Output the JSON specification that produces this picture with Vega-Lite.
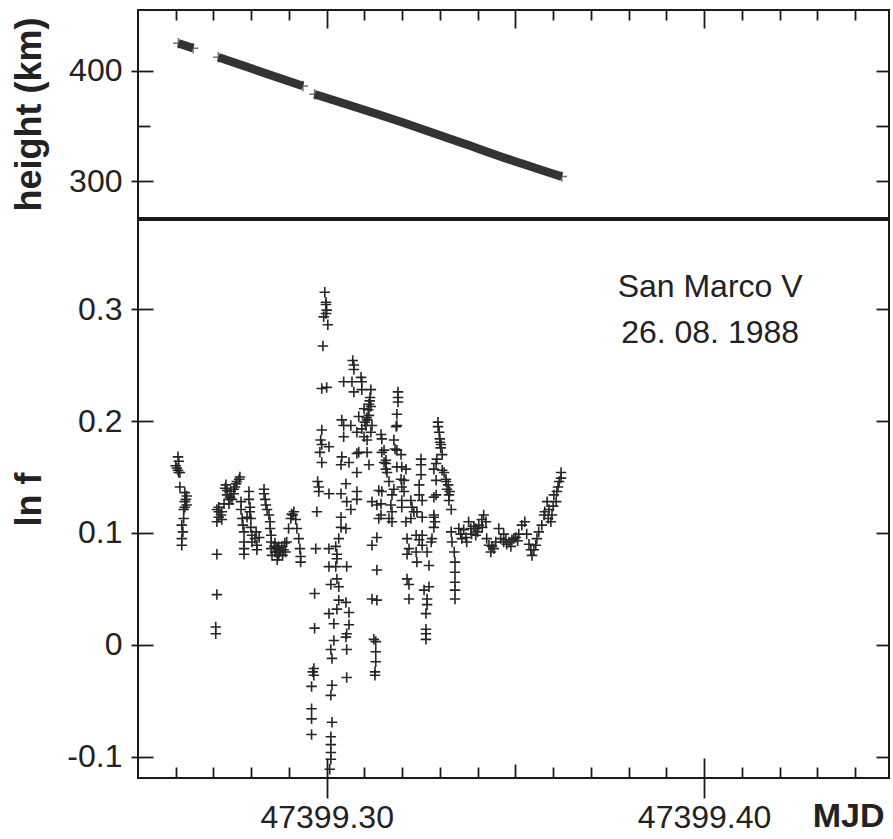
{
"$schema":"https://vega.github.io/schema/vega-lite/v6.json",
"padding":{"left":10,"top":8,"right":2,"bottom":2},
"spacing":0,
"config":{"view":{"stroke":"#1a1a1a","strokeWidth":2},"axis":{"domain":false,"grid":false,"tickColor":"#1a1a1a","tickWidth":1.8,"labelFont":"Liberation Sans","labelFontSize":32,"labelColor":"#222","titleFont":"Liberation Sans","titleFontWeight":"bold","titleFontSize":36,"titleColor":"#222"}},
"vconcat":[
{"width":751,"height":208,
 "data":{"values":[
 {"seg":1,"pt":"end","mjd":47399.2607,"height":424.8},{"seg":1,"pt":"end","mjd":47399.2646,"height":420.3},
 {"seg":2,"pt":"end","mjd":47399.2713,"height":412.1},{"seg":2,"pt":"end","mjd":47399.2937,"height":386.1},
 {"seg":3,"pt":"end","mjd":47399.2968,"height":378.6},{"seg":3,"pt":"mid","mjd":47399.3200,"height":353.2},{"seg":3,"pt":"mid","mjd":47399.3359,"height":334.5},{"seg":3,"pt":"mid","mjd":47399.3492,"height":318.6},{"seg":3,"pt":"end","mjd":47399.3623,"height":304.0}
 ]},
 "resolve":{"axis":{"x":"independent","y":"independent"}},
 "layer":[
  {"mark":{"type":"line","strokeWidth":8.5,"color":"#333333","strokeCap":"butt","interpolate":"monotone"},
   "encoding":{
    "x":{"field":"mjd","type":"quantitative","scale":{"domain":[47399.25,47399.449],"nice":false,"zero":false},
      "axis":{"orient":"top","values":[47399.26,47399.27,47399.28,47399.29,47399.30,47399.31,47399.32,47399.33,47399.34,47399.35,47399.36,47399.37,47399.38,47399.39,47399.40,47399.41,47399.42,47399.43,47399.44],"labels":false,"title":null,
      "tickSize":{"condition":{"test":"round(datum.value*100)%5===0","value":-18},"value":-10}}},
    "y":{"field":"height","type":"quantitative","scale":{"domain":[266.5,455],"nice":false,"zero":false},
      "axis":{"orient":"left","values":[300,350,400],"labels":false,"title":null,"tickSize":{"condition":{"test":"datum.value===350","value":-12},"value":-15}}},
    "detail":{"field":"seg","type":"nominal"}}},
  {"transform":[{"filter":"datum.pt === 'end'"}],
   "mark":{"type":"point","shape":"M-1,0H1M0,-1V1","size":110,"filled":false,"strokeWidth":1.5,"color":"#333333"},
   "encoding":{
    "x":{"field":"mjd","type":"quantitative","scale":{"domain":[47399.25,47399.449],"nice":false,"zero":false},"axis":null},
    "y":{"field":"height","type":"quantitative","scale":{"domain":[266.5,455],"nice":false,"zero":false},
      "axis":{"orient":"left","values":[300,400],"tickSize":7,"labelPadding":9,"title":"height (km)","titleX":-109,"titleBaseline":"middle"}}}},
  {"data":{"values":[]},"mark":{"type":"point"},
   "encoding":{
    "x":{"field":"mjd","type":"quantitative","scale":{"domain":[47399.25,47399.449],"nice":false,"zero":false},"axis":null},
    "y":{"field":"height","type":"quantitative","scale":{"domain":[266.5,455],"nice":false,"zero":false},
      "axis":{"orient":"right","values":[300,350,400],"labels":false,"title":null,"tickSize":-13}}}}
 ]},
{"width":751,"height":558,
 "resolve":{"axis":{"x":"independent","y":"independent"}},
 "layer":[
  {"data":{"values":[
{"mjd":47399.2606,"lnf":0.168},{"mjd":47399.2608,"lnf":0.164},{"mjd":47399.2603,"lnf":0.158},{"mjd":47399.2606,"lnf":0.156},{"mjd":47399.2611,"lnf":0.154},{"mjd":47399.2600,"lnf":0.160},{"mjd":47399.2608,"lnf":0.154},{"mjd":47399.2611,"lnf":0.141},{"mjd":47399.2624,"lnf":0.136},{"mjd":47399.2629,"lnf":0.133},{"mjd":47399.2627,"lnf":0.130},{"mjd":47399.2624,"lnf":0.128},{"mjd":47399.2629,"lnf":0.125},{"mjd":47399.2624,"lnf":0.123},{"mjd":47399.2621,"lnf":0.121},{"mjd":47399.2621,"lnf":0.113},{"mjd":47399.2616,"lnf":0.107},{"mjd":47399.2619,"lnf":0.101},{"mjd":47399.2616,"lnf":0.095},{"mjd":47399.2616,"lnf":0.089},
{"mjd":47399.2709,"lnf":0.121},{"mjd":47399.2714,"lnf":0.119},{"mjd":47399.2714,"lnf":0.114},{"mjd":47399.2709,"lnf":0.110},{"mjd":47399.2722,"lnf":0.112},{"mjd":47399.2709,"lnf":0.081},{"mjd":47399.2709,"lnf":0.045},{"mjd":47399.2706,"lnf":0.016},{"mjd":47399.2706,"lnf":0.010},{"mjd":47399.2733,"lnf":0.143},{"mjd":47399.2736,"lnf":0.138},{"mjd":47399.2746,"lnf":0.137},{"mjd":47399.2754,"lnf":0.139},{"mjd":47399.2760,"lnf":0.144},{"mjd":47399.2768,"lnf":0.148},{"mjd":47399.2770,"lnf":0.150},{"mjd":47399.2741,"lnf":0.130},{"mjd":47399.2741,"lnf":0.126},{"mjd":47399.2749,"lnf":0.130},{"mjd":47399.2728,"lnf":0.126},{"mjd":47399.2722,"lnf":0.119},{"mjd":47399.2720,"lnf":0.116},{"mjd":47399.2736,"lnf":0.134},{"mjd":47399.2754,"lnf":0.135},{"mjd":47399.2762,"lnf":0.146},{"mjd":47399.2714,"lnf":0.123},{"mjd":47399.2731,"lnf":0.140},{"mjd":47399.2757,"lnf":0.141},{"mjd":47399.2744,"lnf":0.132},
{"mjd":47399.2773,"lnf":0.128},{"mjd":47399.2773,"lnf":0.121},{"mjd":47399.2776,"lnf":0.113},{"mjd":47399.2778,"lnf":0.107},{"mjd":47399.2781,"lnf":0.101},{"mjd":47399.2781,"lnf":0.092},{"mjd":47399.2781,"lnf":0.086},{"mjd":47399.2781,"lnf":0.081},{"mjd":47399.2789,"lnf":0.114},{"mjd":47399.2794,"lnf":0.137},{"mjd":47399.2794,"lnf":0.130},{"mjd":47399.2797,"lnf":0.123},{"mjd":47399.2799,"lnf":0.113},{"mjd":47399.2799,"lnf":0.105},{"mjd":47399.2802,"lnf":0.098},{"mjd":47399.2802,"lnf":0.092},{"mjd":47399.2810,"lnf":0.095},{"mjd":47399.2813,"lnf":0.101},{"mjd":47399.2815,"lnf":0.089},{"mjd":47399.2815,"lnf":0.085},{"mjd":47399.2821,"lnf":0.096},{"mjd":47399.2834,"lnf":0.139},{"mjd":47399.2834,"lnf":0.135},{"mjd":47399.2837,"lnf":0.130},{"mjd":47399.2839,"lnf":0.125},{"mjd":47399.2842,"lnf":0.121},{"mjd":47399.2847,"lnf":0.116},{"mjd":47399.2850,"lnf":0.110},{"mjd":47399.2850,"lnf":0.104},{"mjd":47399.2853,"lnf":0.098},{"mjd":47399.2853,"lnf":0.092},{"mjd":47399.2853,"lnf":0.086},{"mjd":47399.2855,"lnf":0.080},{"mjd":47399.2861,"lnf":0.088},{"mjd":47399.2863,"lnf":0.091},{"mjd":47399.2866,"lnf":0.083},{"mjd":47399.2869,"lnf":0.076},{"mjd":47399.2871,"lnf":0.086},{"mjd":47399.2873,"lnf":0.080},{"mjd":47399.2875,"lnf":0.083},{"mjd":47399.2881,"lnf":0.088},{"mjd":47399.2883,"lnf":0.080},{"mjd":47399.2886,"lnf":0.085},{"mjd":47399.2889,"lnf":0.091},{"mjd":47399.2891,"lnf":0.083},{"mjd":47399.2894,"lnf":0.092},{"mjd":47399.2899,"lnf":0.104},{"mjd":47399.2905,"lnf":0.113},{"mjd":47399.2907,"lnf":0.117},{"mjd":47399.2913,"lnf":0.119},{"mjd":47399.2918,"lnf":0.112},{"mjd":47399.2921,"lnf":0.104},{"mjd":47399.2926,"lnf":0.095},{"mjd":47399.2929,"lnf":0.086},{"mjd":47399.2931,"lnf":0.079},{"mjd":47399.2931,"lnf":0.074},{"mjd":47399.2873,"lnf":0.088},{"mjd":47399.2863,"lnf":0.083},{"mjd":47399.2868,"lnf":0.087},{"mjd":47399.2878,"lnf":0.084},{"mjd":47399.2910,"lnf":0.116},{"mjd":47399.2796,"lnf":0.119},
{"mjd":47399.2995,"lnf":0.315},{"mjd":47399.2998,"lnf":0.306},{"mjd":47399.2998,"lnf":0.304},{"mjd":47399.3000,"lnf":0.299},{"mjd":47399.2998,"lnf":0.296},{"mjd":47399.2992,"lnf":0.293},{"mjd":47399.3003,"lnf":0.286},{"mjd":47399.2990,"lnf":0.267},{"mjd":47399.2987,"lnf":0.229},{"mjd":47399.3000,"lnf":0.230},{"mjd":47399.3045,"lnf":0.235},{"mjd":47399.3069,"lnf":0.254},{"mjd":47399.3072,"lnf":0.250},{"mjd":47399.3072,"lnf":0.246},{"mjd":47399.3067,"lnf":0.235},{"mjd":47399.3072,"lnf":0.226},{"mjd":47399.3091,"lnf":0.239},{"mjd":47399.3093,"lnf":0.235},{"mjd":47399.3093,"lnf":0.228},{"mjd":47399.3117,"lnf":0.228},{"mjd":47399.3112,"lnf":0.215},{"mjd":47399.3117,"lnf":0.213},{"mjd":47399.3099,"lnf":0.211},{"mjd":47399.3112,"lnf":0.205},{"mjd":47399.3085,"lnf":0.204},{"mjd":47399.3107,"lnf":0.201},{"mjd":47399.3104,"lnf":0.196},{"mjd":47399.3093,"lnf":0.193},{"mjd":47399.3120,"lnf":0.196},{"mjd":47399.3040,"lnf":0.201},{"mjd":47399.3045,"lnf":0.196},{"mjd":47399.3064,"lnf":0.196},{"mjd":47399.3080,"lnf":0.190},{"mjd":47399.3045,"lnf":0.186},{"mjd":47399.3099,"lnf":0.186},{"mjd":47399.3107,"lnf":0.183},{"mjd":47399.2987,"lnf":0.192},{"mjd":47399.2984,"lnf":0.183},{"mjd":47399.2987,"lnf":0.179},{"mjd":47399.3006,"lnf":0.177},{"mjd":47399.2982,"lnf":0.172},{"mjd":47399.2987,"lnf":0.163},{"mjd":47399.3040,"lnf":0.168},{"mjd":47399.3059,"lnf":0.163},{"mjd":47399.3038,"lnf":0.161},{"mjd":47399.3080,"lnf":0.171},{"mjd":47399.3085,"lnf":0.172},{"mjd":47399.3080,"lnf":0.154},{"mjd":47399.3107,"lnf":0.172},{"mjd":47399.3112,"lnf":0.161},{"mjd":47399.3144,"lnf":0.188},{"mjd":47399.3146,"lnf":0.172},{"mjd":47399.3152,"lnf":0.163},{"mjd":47399.2976,"lnf":0.146},{"mjd":47399.2979,"lnf":0.141},{"mjd":47399.2979,"lnf":0.137},{"mjd":47399.3006,"lnf":0.135},{"mjd":47399.3038,"lnf":0.135},{"mjd":47399.3051,"lnf":0.144},{"mjd":47399.3080,"lnf":0.137},{"mjd":47399.3080,"lnf":0.130},{"mjd":47399.3138,"lnf":0.138},{"mjd":47399.3120,"lnf":0.128},{"mjd":47399.3133,"lnf":0.125},{"mjd":47399.3138,"lnf":0.113},{"mjd":47399.2974,"lnf":0.119},{"mjd":47399.3038,"lnf":0.114},{"mjd":47399.3053,"lnf":0.128},{"mjd":47399.3064,"lnf":0.121},{"mjd":47399.3038,"lnf":0.105},{"mjd":47399.3051,"lnf":0.104},{"mjd":47399.3133,"lnf":0.096},{"mjd":47399.3120,"lnf":0.089},{"mjd":47399.3032,"lnf":0.095},{"mjd":47399.2971,"lnf":0.086},{"mjd":47399.3006,"lnf":0.086},{"mjd":47399.3024,"lnf":0.088},{"mjd":47399.3027,"lnf":0.081},{"mjd":47399.3027,"lnf":0.077},{"mjd":47399.3006,"lnf":0.070},{"mjd":47399.3024,"lnf":0.070},{"mjd":47399.3053,"lnf":0.070},{"mjd":47399.3133,"lnf":0.067},{"mjd":47399.3011,"lnf":0.054},{"mjd":47399.3027,"lnf":0.059},{"mjd":47399.3032,"lnf":0.052},{"mjd":47399.2968,"lnf":0.046},{"mjd":47399.3120,"lnf":0.041},{"mjd":47399.3133,"lnf":0.040},{"mjd":47399.3032,"lnf":0.040},{"mjd":47399.3051,"lnf":0.038},{"mjd":47399.3027,"lnf":0.032},{"mjd":47399.3059,"lnf":0.029},{"mjd":47399.3006,"lnf":0.028},{"mjd":47399.3019,"lnf":0.019},{"mjd":47399.3059,"lnf":0.018},{"mjd":47399.2968,"lnf":0.015},{"mjd":47399.3053,"lnf":0.010},{"mjd":47399.3051,"lnf":0.007},{"mjd":47399.3019,"lnf":0.004},{"mjd":47399.3125,"lnf":0.005},{"mjd":47399.3130,"lnf":0.003},{"mjd":47399.3053,"lnf":-0.004},{"mjd":47399.3011,"lnf":-0.004},{"mjd":47399.3130,"lnf":-0.006},{"mjd":47399.3014,"lnf":-0.012},{"mjd":47399.3130,"lnf":-0.015},{"mjd":47399.3128,"lnf":-0.024},{"mjd":47399.3128,"lnf":-0.027},{"mjd":47399.2966,"lnf":-0.021},{"mjd":47399.2963,"lnf":-0.024},{"mjd":47399.2966,"lnf":-0.027},{"mjd":47399.2960,"lnf":-0.037},{"mjd":47399.3053,"lnf":-0.029},{"mjd":47399.3014,"lnf":-0.036},{"mjd":47399.3011,"lnf":-0.045},{"mjd":47399.2960,"lnf":-0.057},{"mjd":47399.2960,"lnf":-0.066},{"mjd":47399.2960,"lnf":-0.080},{"mjd":47399.3014,"lnf":-0.069},{"mjd":47399.3011,"lnf":-0.082},{"mjd":47399.3011,"lnf":-0.089},{"mjd":47399.3011,"lnf":-0.096},{"mjd":47399.3011,"lnf":-0.102},{"mjd":47399.3008,"lnf":-0.111},
{"mjd":47399.3157,"lnf":0.162},{"mjd":47399.3160,"lnf":0.154},{"mjd":47399.3170,"lnf":0.125},{"mjd":47399.3173,"lnf":0.119},{"mjd":47399.3165,"lnf":0.113},{"mjd":47399.3115,"lnf":0.221},{"mjd":47399.3110,"lnf":0.210},{"mjd":47399.3101,"lnf":0.199},{"mjd":47399.3117,"lnf":0.190},{"mjd":47399.3114,"lnf":0.218},{"mjd":47399.3106,"lnf":0.203},
{"mjd":47399.3189,"lnf":0.226},{"mjd":47399.3189,"lnf":0.221},{"mjd":47399.3189,"lnf":0.217},{"mjd":47399.3186,"lnf":0.206},{"mjd":47399.3184,"lnf":0.195},{"mjd":47399.3186,"lnf":0.196},{"mjd":47399.3178,"lnf":0.183},{"mjd":47399.3181,"lnf":0.175},{"mjd":47399.3186,"lnf":0.174},{"mjd":47399.3197,"lnf":0.170},{"mjd":47399.3152,"lnf":0.174},{"mjd":47399.3157,"lnf":0.165},{"mjd":47399.3146,"lnf":0.184},{"mjd":47399.3157,"lnf":0.157},{"mjd":47399.3186,"lnf":0.159},{"mjd":47399.3199,"lnf":0.159},{"mjd":47399.3210,"lnf":0.157},{"mjd":47399.3197,"lnf":0.148},{"mjd":47399.3205,"lnf":0.147},{"mjd":47399.3199,"lnf":0.141},{"mjd":47399.3205,"lnf":0.137},{"mjd":47399.3199,"lnf":0.129},{"mjd":47399.3199,"lnf":0.123},{"mjd":47399.3165,"lnf":0.146},{"mjd":47399.3178,"lnf":0.139},{"mjd":47399.3173,"lnf":0.134},{"mjd":47399.3173,"lnf":0.110},{"mjd":47399.3146,"lnf":0.137},{"mjd":47399.3144,"lnf":0.126},{"mjd":47399.3144,"lnf":0.116},{"mjd":47399.3223,"lnf":0.129},{"mjd":47399.3226,"lnf":0.123},{"mjd":47399.3231,"lnf":0.119},{"mjd":47399.3223,"lnf":0.113},{"mjd":47399.3210,"lnf":0.110},{"mjd":47399.3239,"lnf":0.119},{"mjd":47399.3250,"lnf":0.166},{"mjd":47399.3250,"lnf":0.161},{"mjd":47399.3250,"lnf":0.152},{"mjd":47399.3245,"lnf":0.143},{"mjd":47399.3245,"lnf":0.134},{"mjd":47399.3253,"lnf":0.129},{"mjd":47399.3253,"lnf":0.114},{"mjd":47399.3237,"lnf":0.098},{"mjd":47399.3245,"lnf":0.094},{"mjd":47399.3253,"lnf":0.098},{"mjd":47399.3213,"lnf":0.095},{"mjd":47399.3218,"lnf":0.086},{"mjd":47399.3213,"lnf":0.081},{"mjd":47399.3237,"lnf":0.083},{"mjd":47399.3239,"lnf":0.074},{"mjd":47399.3253,"lnf":0.089},{"mjd":47399.3266,"lnf":0.083},{"mjd":47399.3277,"lnf":0.092},{"mjd":47399.3279,"lnf":0.095},{"mjd":47399.3271,"lnf":0.071},{"mjd":47399.3213,"lnf":0.059},{"mjd":47399.3218,"lnf":0.054},{"mjd":47399.3218,"lnf":0.041},{"mjd":47399.3258,"lnf":0.049},{"mjd":47399.3271,"lnf":0.052},{"mjd":47399.3266,"lnf":0.041},{"mjd":47399.3266,"lnf":0.036},{"mjd":47399.3263,"lnf":0.028},{"mjd":47399.3263,"lnf":0.014},{"mjd":47399.3263,"lnf":0.010},{"mjd":47399.3263,"lnf":0.005},{"mjd":47399.3284,"lnf":0.116},{"mjd":47399.3287,"lnf":0.110},{"mjd":47399.3290,"lnf":0.134},{"mjd":47399.3284,"lnf":0.157},{"mjd":47399.3290,"lnf":0.162},{"mjd":47399.3292,"lnf":0.166},{"mjd":47399.3295,"lnf":0.199},{"mjd":47399.3295,"lnf":0.195},{"mjd":47399.3298,"lnf":0.190},{"mjd":47399.3300,"lnf":0.184},{"mjd":47399.3303,"lnf":0.179},{"mjd":47399.3300,"lnf":0.181},{"mjd":47399.3306,"lnf":0.170},{"mjd":47399.3311,"lnf":0.154},{"mjd":47399.3316,"lnf":0.146},{"mjd":47399.3319,"lnf":0.139},{"mjd":47399.3324,"lnf":0.134},{"mjd":47399.3330,"lnf":0.121},{"mjd":47399.3324,"lnf":0.129},{"mjd":47399.3330,"lnf":0.101},{"mjd":47399.3332,"lnf":0.092},{"mjd":47399.3338,"lnf":0.083},{"mjd":47399.3340,"lnf":0.074},{"mjd":47399.3340,"lnf":0.065},{"mjd":47399.3340,"lnf":0.056},{"mjd":47399.3340,"lnf":0.049},{"mjd":47399.3340,"lnf":0.041},{"mjd":47399.3316,"lnf":0.148},{"mjd":47399.3322,"lnf":0.143},{"mjd":47399.3306,"lnf":0.156},{"mjd":47399.3290,"lnf":0.147},{"mjd":47399.3284,"lnf":0.132},{"mjd":47399.3284,"lnf":0.114},{"mjd":47399.3284,"lnf":0.105},{"mjd":47399.3302,"lnf":0.176},{"mjd":47399.3326,"lnf":0.137},
{"mjd":47399.3350,"lnf":0.104},{"mjd":47399.3355,"lnf":0.099},{"mjd":47399.3358,"lnf":0.095},{"mjd":47399.3363,"lnf":0.103},{"mjd":47399.3369,"lnf":0.096},{"mjd":47399.3376,"lnf":0.110},{"mjd":47399.3382,"lnf":0.104},{"mjd":47399.3384,"lnf":0.099},{"mjd":47399.3390,"lnf":0.106},{"mjd":47399.3395,"lnf":0.104},{"mjd":47399.3403,"lnf":0.107},{"mjd":47399.3411,"lnf":0.112},{"mjd":47399.3416,"lnf":0.116},{"mjd":47399.3422,"lnf":0.110},{"mjd":47399.3424,"lnf":0.095},{"mjd":47399.3430,"lnf":0.089},{"mjd":47399.3435,"lnf":0.083},{"mjd":47399.3443,"lnf":0.086},{"mjd":47399.3448,"lnf":0.092},{"mjd":47399.3456,"lnf":0.104},{"mjd":47399.3461,"lnf":0.095},{"mjd":47399.3469,"lnf":0.092},{"mjd":47399.3477,"lnf":0.090},{"mjd":47399.3483,"lnf":0.092},{"mjd":47399.3491,"lnf":0.094},{"mjd":47399.3496,"lnf":0.095},{"mjd":47399.3501,"lnf":0.096},{"mjd":47399.3509,"lnf":0.099},{"mjd":47399.3517,"lnf":0.107},{"mjd":47399.3525,"lnf":0.110},{"mjd":47399.3530,"lnf":0.099},{"mjd":47399.3536,"lnf":0.090},{"mjd":47399.3544,"lnf":0.080},{"mjd":47399.3549,"lnf":0.085},{"mjd":47399.3554,"lnf":0.089},{"mjd":47399.3562,"lnf":0.101},{"mjd":47399.3570,"lnf":0.107},{"mjd":47399.3576,"lnf":0.116},{"mjd":47399.3584,"lnf":0.128},{"mjd":47399.3589,"lnf":0.121},{"mjd":47399.3594,"lnf":0.110},{"mjd":47399.3597,"lnf":0.116},{"mjd":47399.3602,"lnf":0.134},{"mjd":47399.3610,"lnf":0.137},{"mjd":47399.3616,"lnf":0.146},{"mjd":47399.3621,"lnf":0.154},{"mjd":47399.3621,"lnf":0.149},{"mjd":47399.3371,"lnf":0.092},{"mjd":47399.3395,"lnf":0.098},{"mjd":47399.3438,"lnf":0.088},{"mjd":47399.3488,"lnf":0.088},{"mjd":47399.3469,"lnf":0.099},{"mjd":47399.3541,"lnf":0.085},{"mjd":47399.3557,"lnf":0.095},{"mjd":47399.3578,"lnf":0.119},{"mjd":47399.3608,"lnf":0.128},{"mjd":47399.3400,"lnf":0.101},{"mjd":47399.3412,"lnf":0.105},{"mjd":47399.3475,"lnf":0.094},{"mjd":47399.3506,"lnf":0.093},{"mjd":47399.3587,"lnf":0.113},{"mjd":47399.3600,"lnf":0.124},{"mjd":47399.3613,"lnf":0.141}
  ]},
   "mark":{"type":"point","shape":"M-1,0H1M0,-1V1","size":110,"filled":false,"strokeWidth":1.6,"color":"#262626","opacity":1},
   "encoding":{
    "x":{"field":"mjd","type":"quantitative","scale":{"domain":[47399.25,47399.449],"nice":false,"zero":false},
      "axis":{"orient":"bottom","values":[47399.26,47399.27,47399.28,47399.29,47399.30,47399.31,47399.32,47399.33,47399.34,47399.35,47399.36,47399.37,47399.38,47399.39,47399.40,47399.41,47399.42,47399.43,47399.44],"labels":false,"title":null,
      "tickSize":{"condition":[{"test":"round(datum.value*100)%10===0","value":-20},{"test":"round(datum.value*100)%5===0","value":-14}],"value":-11}}},
    "y":{"field":"lnf","type":"quantitative","scale":{"domain":[-0.1188,0.3795],"nice":false,"zero":false},
      "axis":{"orient":"left","values":[-0.1,0,0.1,0.2,0.3],"labels":false,"title":null,"tickSize":-15}}}},
  {"data":{"values":[{"mjd":47399.4016,"lnf":0.320,"label":"San Marco V"},{"mjd":47399.4016,"lnf":0.279,"label":"26. 08. 1988"}]},
   "mark":{"type":"text","font":"Liberation Sans","fontSize":32,"color":"#222","align":"center","baseline":"middle"},
   "encoding":{
    "text":{"field":"label"},
    "x":{"field":"mjd","type":"quantitative","scale":{"domain":[47399.25,47399.449],"nice":false,"zero":false},
      "axis":{"orient":"bottom","values":[47399.30,47399.40],"format":".2f","tickSize":20,"labelPadding":4,"title":"MJD","titleFontSize":34,"titleX":746,"titleY":48,"titleAlign":"right","titleAnchor":"end","titleBaseline":"alphabetic"}},
    "y":{"field":"lnf","type":"quantitative","scale":{"domain":[-0.1188,0.3795],"nice":false,"zero":false},
      "axis":{"orient":"left","values":[-0.1,0,0.1,0.2,0.3],"tickSize":7,"labelPadding":9,"labelExpr":"datum.value < 0 ? '-' + format(-datum.value, '.1f') : (datum.value === 0 ? '0' : format(datum.value, '.1f'))","title":"ln f","titleX":-109,"titleBaseline":"middle"}}}},
  {"data":{"values":[]},"mark":{"type":"point"},
   "encoding":{
    "x":{"field":"mjd","type":"quantitative","scale":{"domain":[47399.25,47399.449],"nice":false,"zero":false},"axis":null},
    "y":{"field":"lnf","type":"quantitative","scale":{"domain":[-0.1188,0.3795],"nice":false,"zero":false},
      "axis":{"orient":"right","values":[-0.1,0,0.1,0.2,0.3],"labels":false,"title":null,"tickSize":-13}}}}
 ]}
]
}
